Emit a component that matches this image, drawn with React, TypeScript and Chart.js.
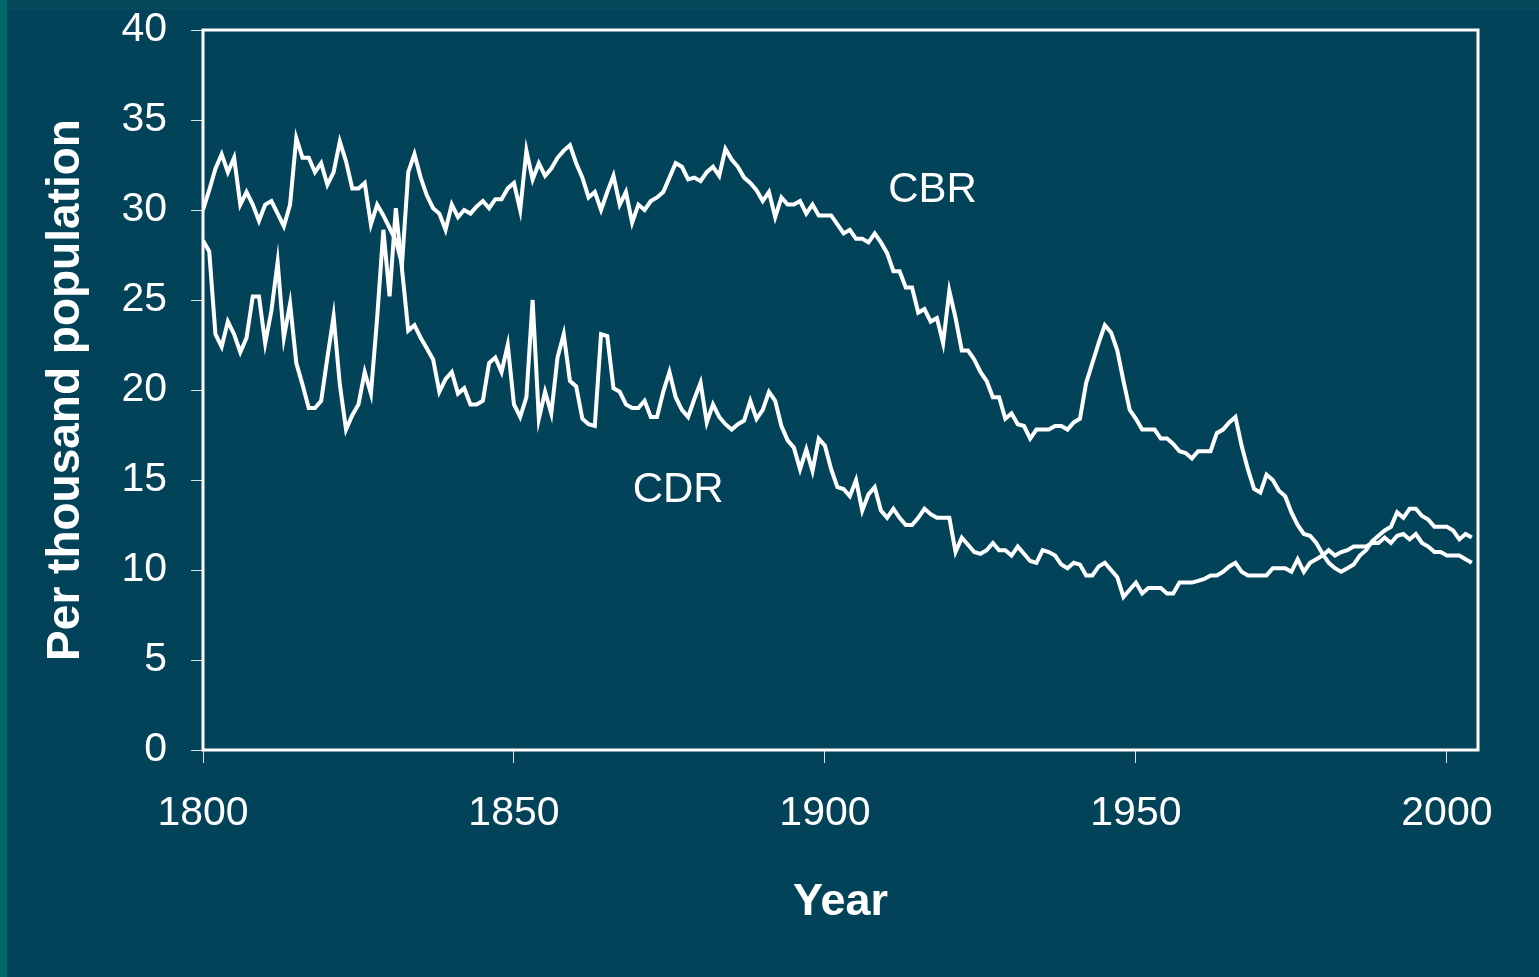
import React, { useEffect, useRef } from "react";
import { Chart, registerables } from "chart.js";

Chart.register(...registerables);

// ---------- data ----------
const START_YEAR = 1800;

// Crude birth rate, per thousand, 1800..2004
const CBR = [
  30.0, 31.1, 32.3, 33.1, 32.1, 32.9, 30.3, 31.0, 30.3, 29.4,
  30.3, 30.5, 29.8, 29.1, 30.3, 34.0, 32.9, 32.9, 32.1, 32.6,
  31.4, 32.1, 33.8, 32.7, 31.2, 31.2, 31.5, 29.2, 30.3, 29.7,
  29.0, 28.3, 27.0, 32.1, 33.1, 31.8, 30.8, 30.1, 29.8, 28.9,
  30.3, 29.6, 30.0, 29.8, 30.2, 30.5, 30.1, 30.6, 30.6, 31.2,
  31.5, 30.0, 33.3, 31.7, 32.6, 31.9, 32.3, 32.9, 33.3, 33.6,
  32.6, 31.8, 30.7, 31.0, 30.0, 31.0, 31.9, 30.3, 31.0, 29.3,
  30.3, 30.0, 30.5, 30.7, 31.0, 31.8, 32.6, 32.4, 31.7, 31.8,
  31.6, 32.1, 32.4, 31.9, 33.4, 32.8, 32.4, 31.8, 31.5, 31.1,
  30.5, 31.0, 29.6, 30.7, 30.3, 30.3, 30.5, 29.8, 30.3, 29.7,
  29.7, 29.7, 29.2, 28.7, 28.9, 28.4, 28.4, 28.2, 28.7, 28.2,
  27.6, 26.6, 26.6, 25.7, 25.7, 24.3, 24.5, 23.8, 24.0, 22.6,
  25.5, 24.0, 22.2, 22.2, 21.7, 21.0, 20.5, 19.6, 19.6, 18.4,
  18.7, 18.1, 18.0, 17.3, 17.8, 17.8, 17.8, 18.0, 18.0, 17.8,
  18.2, 18.4, 20.4, 21.5, 22.6, 23.6, 23.2, 22.2, 20.5, 18.9,
  18.4, 17.8, 17.8, 17.8, 17.3, 17.3, 17.0, 16.6, 16.5, 16.2,
  16.6, 16.6, 16.6, 17.6, 17.8, 18.2, 18.5, 16.9, 15.6, 14.5,
  14.3, 15.3, 15.0, 14.4, 14.1, 13.2, 12.5, 12.0, 11.9, 11.5,
  10.9, 10.4, 10.1, 9.9, 10.1, 10.3, 10.8, 11.1, 11.6, 11.9,
  12.2, 12.4, 13.2, 12.9, 13.4, 13.4, 13.0, 12.8, 12.4, 12.4,
  12.4, 12.2, 11.7, 12.0, 11.8,
];

// Crude death rate, per thousand, 1800..2004
const CDR = [
  28.3, 27.7, 23.1, 22.4, 23.8, 23.1, 22.1, 22.9, 25.2, 25.2,
  22.6, 24.4, 27.1, 22.9, 24.8, 21.5, 20.3, 19.0, 19.0, 19.4,
  21.8, 24.1, 20.3, 17.8, 18.6, 19.2, 21.0, 19.8, 24.0, 28.9,
  25.2, 30.1, 26.7, 23.3, 23.6, 22.9, 22.3, 21.7, 19.9, 20.6,
  21.0, 19.8, 20.1, 19.2, 19.2, 19.4, 21.5, 21.8, 21.0, 22.5,
  19.2, 18.5, 19.6, 25.0, 18.4, 19.9, 18.7, 21.8, 23.1, 20.5,
  20.2, 18.4, 18.1, 18.0, 23.1, 23.0, 20.1, 19.9, 19.2, 19.0,
  19.0, 19.4, 18.5, 18.5, 19.9, 21.0, 19.6, 18.9, 18.5, 19.5,
  20.4, 18.2, 19.2, 18.5, 18.1, 17.8, 18.1, 18.3, 19.4, 18.4,
  18.9, 19.9, 19.4, 18.0, 17.2, 16.8, 15.6, 16.7, 15.5, 17.3,
  16.9, 15.6, 14.6, 14.5, 14.1, 15.0, 13.3, 14.2, 14.6, 13.3,
  12.9, 13.4, 12.9, 12.5, 12.5, 12.9, 13.4, 13.1, 12.9, 12.9,
  12.9, 11.0, 11.8, 11.4, 11.0, 10.9, 11.1, 11.5, 11.1, 11.1,
  10.8, 11.3, 10.9, 10.5, 10.4, 11.1, 11.0, 10.8, 10.3, 10.1,
  10.4, 10.3, 9.7, 9.7, 10.2, 10.4, 10.0, 9.6, 8.5, 8.9,
  9.3, 8.7, 9.0, 9.0, 9.0, 8.7, 8.7, 9.3, 9.3, 9.3,
  9.4, 9.5, 9.7, 9.7, 9.9, 10.2, 10.4, 9.9, 9.7, 9.7,
  9.7, 9.7, 10.1, 10.1, 10.1, 9.9, 10.6, 9.9, 10.4, 10.6,
  10.8, 11.1, 10.8, 11.0, 11.1, 11.3, 11.3, 11.3, 11.5, 11.5,
  11.8, 11.5, 11.9, 12.0, 11.7, 12.0, 11.5, 11.3, 11.0, 11.0,
  10.8, 10.8, 10.8, 10.6, 10.4,
];

const X_TICKS = [1800, 1850, 1900, 1950, 2000];
const Y_TICKS = [0, 5, 10, 15, 20, 25, 30, 35, 40];
const X_MIN = 1800;
const X_MAX = 2005;
const Y_MIN = 0;
const Y_MAX = 40;

const SERIES_NAMES = ["CBR", "CDR"];
// in-plot series labels, placed in data coordinates [year, value]
const LABEL_ANCHORS = [
  [1917.3, 31.1],
  [1876.4, 14.4],
];

const X_TITLE = "Year";
const Y_TITLE = "Per thousand population";

// ---------- styles ----------
const W = 1539;
const H = 977;
const BG = "#03435a";
const FONT = "'Liberation Sans', Arial, Helvetica, sans-serif";

const toPoints = (vals: number[]) =>
  vals.map((v, i) => ({ x: START_YEAR + i, y: v }));

const framePlugin = {
  id: "frameAndLabels",
  beforeDraw(chart: any) {
    const { ctx } = chart;
    ctx.save();
    ctx.fillStyle = BG;
    ctx.fillRect(0, 0, chart.width, chart.height);
    ctx.fillStyle = "#04495c";
    ctx.fillRect(0, 0, chart.width, 10);
    ctx.fillStyle = "#006868";
    ctx.fillRect(0, 0, 7, chart.height);
    ctx.restore();
  },
  afterDatasetsDraw(chart: any) {
    const { ctx, chartArea: a, scales } = chart;
    ctx.save();
    ctx.strokeStyle = "#ffffff";
    ctx.lineWidth = 3;
    ctx.strokeRect(a.left, a.top, a.right - a.left, a.bottom - a.top);
    ctx.fillStyle = "#ffffff";
    ctx.font = `42px ${FONT}`;
    ctx.textAlign = "center";
    ctx.textBaseline = "middle";
    SERIES_NAMES.forEach((name, i) => {
      const [xv, yv] = LABEL_ANCHORS[i];
      ctx.fillText(
        name,
        scales.x.getPixelForValue(xv),
        scales.y.getPixelForValue(yv)
      );
    });
    ctx.restore();
  },
};

export default function App() {
  const ref = useRef<HTMLCanvasElement | null>(null);

  useEffect(() => {
    if (!ref.current) return;
    const chart = new Chart(ref.current, {
      type: "line",
      data: {
        datasets: [
          {
            label: SERIES_NAMES[0],
            data: toPoints(CBR),
            borderColor: "#ffffff",
            borderWidth: 4,
            pointRadius: 0,
            tension: 0,
            fill: false,
          },
          {
            label: SERIES_NAMES[1],
            data: toPoints(CDR),
            borderColor: "#ffffff",
            borderWidth: 4,
            pointRadius: 0,
            tension: 0,
            fill: false,
          },
        ],
      },
      options: {
        responsive: false,
        animation: false,
        events: [],
        layout: { padding: { top: 30, right: W - 1478, bottom: 0, left: 0 } },
        plugins: {
          legend: { display: false },
          tooltip: { enabled: false },
          title: { display: false },
        },
        scales: {
          x: {
            type: "linear",
            min: X_MIN,
            max: X_MAX,
            afterBuildTicks: (s: any) => {
              s.ticks = X_TICKS.map((v) => ({ value: v }));
            },
            afterFit: (s: any) => {
              s.height = H - 750;
            },
            ticks: {
              color: "#ffffff",
              font: { family: FONT, size: 41 },
              padding: 26,
              maxRotation: 0,
              autoSkip: false,
              callback: (v: any) => String(v),
            },
            grid: {
              display: true,
              drawOnChartArea: false,
              drawTicks: true,
              tickLength: 13,
              color: "rgba(255,255,255,0.85)",
              lineWidth: 1,
            },
            border: { display: false },
            title: {
              display: true,
              text: X_TITLE,
              color: "#ffffff",
              font: { family: FONT, size: 45, weight: "bold" },
              padding: { top: 0, bottom: 47 },
            },
          },
          y: {
            type: "linear",
            min: Y_MIN,
            max: Y_MAX,
            afterBuildTicks: (s: any) => {
              s.ticks = Y_TICKS.map((v) => ({ value: v }));
            },
            afterFit: (s: any) => {
              s.width = 203;
            },
            ticks: {
              color: "#ffffff",
              font: { family: FONT, size: 41, lineHeight: 0.2 },
              padding: 24,
              autoSkip: false,
              callback: (v: any) => String(v),
            },
            grid: {
              display: true,
              drawOnChartArea: false,
              drawTicks: true,
              tickLength: 12,
              color: "rgba(255,255,255,0.85)",
              lineWidth: 1,
            },
            border: { display: false },
            title: {
              display: true,
              text: Y_TITLE,
              color: "#ffffff",
              font: { family: FONT, size: 46, weight: "bold" },
              padding: { top: 39, bottom: 0 },
            },
          },
        },
      },
      plugins: [framePlugin],
    } as any);
    return () => chart.destroy();
  }, []);

  return (
    <div
      style={{
        position: "fixed",
        left: 0,
        top: 0,
        width: W,
        height: H,
        background: BG,
        overflow: "hidden",
      }}
    >
      <canvas ref={ref} width={W} height={H} style={{ display: "block" }} />
    </div>
  );
}
